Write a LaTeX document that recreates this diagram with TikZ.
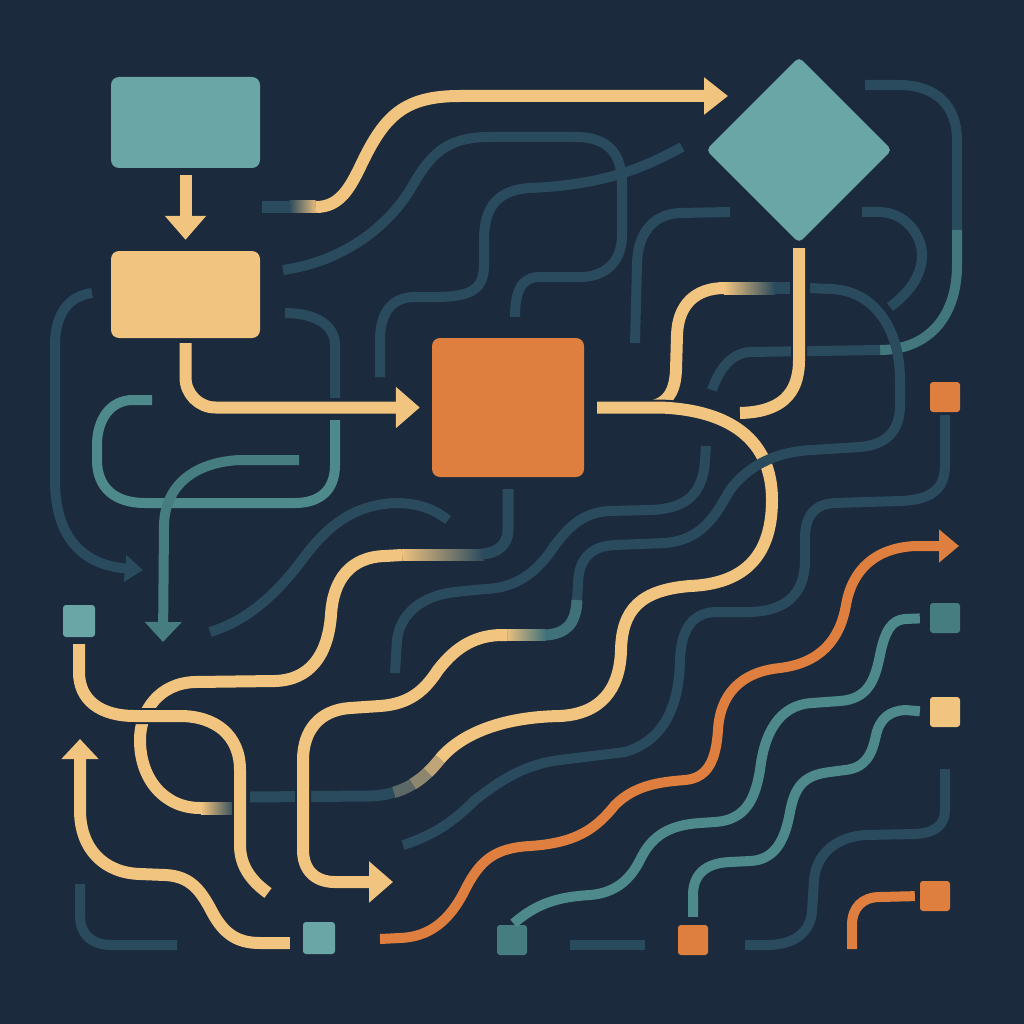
\documentclass[tikz,border=0pt]{standalone}
\usepackage{xcolor}
\usepackage{tikz}
\usetikzlibrary{arrows.meta}
\usetikzlibrary{shapes.geometric}

\definecolor{night}{HTML}{1B2A3C}
\definecolor{deep}{HTML}{2A4A5E}
\definecolor{sea}{HTML}{4E8A8C}
\definecolor{seadk}{HTML}{467D80}
\definecolor{aqua}{HTML}{6AA6A6}
\definecolor{sand}{HTML}{F1C47F}
\definecolor{rust}{HTML}{DF7F3F}

\begin{document}
\begin{tikzpicture}[x=1pt, y=-1pt, line join=round,
  box/.style={rectangle, rounded corners=8pt, inner sep=0pt},
  chip/.style={rectangle, rounded corners=3pt, inner sep=0pt, minimum size=30pt},
  halo/.style={preaction={draw=night, line width=16pt}},
  sandln/.style={draw=sand, line width=12pt, halo},
  deepln/.style={draw=deep, line width=10pt},
  sealn/.style={draw=sea, line width=10pt},
  rustln/.style={draw=rust, line width=10pt},
  bigtip/.style={-{Triangle[width=40pt, length=24pt]}}]
  \useasboundingbox (0,0) rectangle (1024,1024);
  \fill[night] (0,0) rectangle (1024,1024);

  \node[box, fill=aqua, minimum width=149pt, minimum height=91pt] (start) at (185.5,122.5) {};
  \node[box, fill=sand, minimum width=149pt, minimum height=87pt] (prep) at (185.5,294.5) {};
  \node[box, fill=rust, minimum width=152pt, minimum height=139pt] (proc) at (508,407.5) {};
  \node[diamond, aspect=1, fill=aqua, minimum width=186pt, minimum height=186pt, inner sep=0pt, rounded corners=5pt] (dec) at (799,150) {};
  \node[chip, fill=rust] (chipa) at (945,397) {};
  \node[chip, fill=aqua, minimum size=32pt] (chipb) at (319,938) {};
  \node[chip, fill=aqua, minimum size=32pt] (chipc) at (79,621) {};
  \node[chip, fill=seadk] (chipd) at (512,940) {};
  \node[chip, fill=seadk] (chipe) at (945,618) {};
  \node[chip, fill=rust] (chipf) at (693,940) {};
  \node[chip, fill=sand] (chipg) at (945,712) {};
  \node[chip, fill=rust] (chiph) at (935,896) {};

  % dark background lines
  \draw[deepln, -{Triangle[width=26pt, length=18pt]}] (92,293) .. controls (68,296) and (55,315) .. (55,345) -- (55,480) .. controls (55,540) and (85,565) .. (143,570);
  \draw[deepln] (283,270) .. controls (340,262) and (385,230) .. (410,190) .. controls (430,155) and (445,137) .. (490,137) -- (575,137) .. controls (610,137) and (622,155) .. (622,185) -- (622,235) .. controls (622,262) and (605,277) .. (580,277) -- (540,277) .. controls (522,277) and (515,290) .. (515,317);
  \draw[deepln] (682,147) .. controls (640,170) and (600,185) .. (530,188) .. controls (495,190) and (484,210) .. (484,240) -- (484,265) .. controls (484,290) and (470,296) .. (440,297) -- (415,297) .. controls (390,297) and (380,315) .. (380,340) -- (380,377);
  \draw[deepln] (730,212) -- (680,213) .. controls (652,214) and (637,235) .. (637,265) -- (635,343);
  \draw[deepln] (862,212) -- (879,212) .. controls (905,212) and (922,235) .. (922,255) .. controls (922,275) and (910,292) .. (890,307);
  \draw[deepln] (865,85) -- (899,85) .. controls (935,85) and (957,105) .. (957,140) -- (957,230);
  \draw[sealn, draw=sea!70!deep] (957,230) -- (957,265) .. controls (957,320) and (925,350) .. (880,350);
  \draw[deepln] (880,350) -- (750,352) .. controls (730,353) and (718,372) .. (712,390);
  \draw[deepln] (335,398) -- (335,345) .. controls (335,325) and (315,313) .. (285,313);
  \draw[sealn] (152,400) -- (133,400) .. controls (110,400) and (97,420) .. (97,445) -- (97,460) .. controls (97,488) and (115,503) .. (145,503) -- (295,503) .. controls (320,503) and (335,490) .. (335,465) -- (335,420);
  \draw[sealn, draw=seadk, -{Triangle[width=36pt, length=20pt]}] (299,460) -- (240,460) .. controls (195,462) and (165,485) .. (164,525) -- (163,642);
  \draw[deepln] (210,632) .. controls (250,620) and (280,590) .. (305,556) .. controls (325,530) and (350,505) .. (395,503) .. controls (420,503) and (435,510) .. (448,520);
  \draw[deepln] (706,446) -- (705,460) .. controls (703,495) and (685,509) .. (650,510) -- (610,511) .. controls (585,512) and (570,525) .. (555,545) .. controls (540,568) and (520,588) .. (485,589) -- (455,592) .. controls (420,596) and (400,615) .. (397,640) -- (395,673);
  \draw[deepln, shorten <=3pt] (chipa.south) -- (945,465) .. controls (945,490) and (930,500) .. (900,501) -- (835,503) .. controls (815,504) and (806,515) .. (805,535) -- (805,560) .. controls (805,595) and (785,611) .. (750,612) -- (715,612) .. controls (692,613) and (681,630) .. (680,660) .. controls (679,705) and (665,740) .. (625,752) -- (560,760) .. controls (520,765) and (495,785) .. (475,800) .. controls (455,820) and (435,835) .. (403,845);
  \draw[deepln] (945,769) -- (945,810) .. controls (945,825) and (935,833) .. (915,834) -- (865,835) .. controls (835,837) and (816,855) .. (814,880) -- (812,912) .. controls (810,932) and (795,944) .. (770,945) -- (745,945);
  \draw[deepln] (570,945) -- (645,945);
  \draw[deepln] (80,884) -- (80,915) .. controls (80,935) and (92,945) .. (112,945) -- (177,945);

  % teal and orange waves
  \draw[sealn, shorten <=2pt, shorten >=10pt] (chipd.north) .. controls (535,905) and (555,897) .. (590,895) .. controls (615,893) and (630,880) .. (640,860) .. controls (652,835) and (670,825) .. (700,823) -- (715,822) .. controls (745,820) and (755,800) .. (760,770) .. controls (764,735) and (778,705) .. (812,703) -- (840,701) .. controls (868,699) and (875,680) .. (880,655) .. controls (885,630) and (892,620) .. (905,619) -- (chipe.west);
  \draw[sealn, shorten <=8pt, shorten >=10pt] (chipf.north) -- (693,895) .. controls (693,875) and (705,863) .. (730,862) -- (750,861) .. controls (775,860) and (785,840) .. (790,812) .. controls (795,785) and (805,775) .. (830,772) -- (845,770) .. controls (865,768) and (872,755) .. (876,735) .. controls (880,718) and (890,711) .. (905,710) -- (chipg.west);
  \draw[rustln, -{Triangle[width=32pt, length=20pt]}] (380,939) -- (400,938) .. controls (430,937) and (450,920) .. (465,890) .. controls (480,860) and (495,848) .. (530,846) .. controls (575,843) and (595,830) .. (615,805) .. controls (635,785) and (660,782) .. (685,780) .. controls (708,778) and (716,760) .. (718,730) .. controls (720,695) and (740,672) .. (780,668) .. controls (820,663) and (840,640) .. (846,605) .. controls (852,570) and (875,548) .. (915,546) -- (959,546);
  \draw[rustln, shorten >=5pt] (852,949) -- (852,925) .. controls (852,908) and (862,897) .. (880,897) -- (chiph.west);

  % sand flow lines
  \draw[sandln, bigtip, shorten <=7pt, shorten >=11pt] (start) -- (prep);
  \draw[sandln, bigtip, rounded corners=30pt, shorten <=5pt, shorten >=12pt] (prep.south) |- (proc.west);
  \draw[deepln, line width=12pt] (262,207) -- (290,207);
  \shade[left color=deep, right color=sand] (289,201) rectangle (318,213);
  \draw[sandln, -{Triangle[width=36pt, length=24pt]}] (316,207) .. controls (340,207) and (350,188) .. (362,163) .. controls (385,115) and (405,96) .. (460,96) -- (728,96);
  \draw[sandln, shorten <=13pt] (proc.east) -- (640,407.5) .. controls (665,407.5) and (675,395) .. (676,370) -- (677,335) .. controls (678,305) and (695,288) .. (725,288);
  \shade[left color=sand, right color=deep] (724,282) rectangle (775,294);
  \draw[deepln, line width=12pt] (774,288) -- (790,288);
  \draw[sandln, shorten <=13pt] (proc.east) -- (660,407.5) .. controls (730,410) and (772,440) .. (772,500) .. controls (772,560) and (740,584) .. (690,586) .. controls (640,590) and (622,610) .. (621,650) .. controls (620,690) and (600,714) .. (560,716) .. controls (500,717) and (460,735) .. (440,759);
  \draw[draw=sand!75!deep, line width=12pt] (440,759) .. controls (436.25,763.75) and (432.19,768.38) .. (427.66,772.66);
  \draw[draw=sand!50!deep, line width=12pt] (427.66,772.66) .. controls (423.13,776.94) and (418.13,780.88) .. (412.5,784.25);
  \draw[draw=sand!25!deep, line width=11.5pt] (412.5,784.25) .. controls (406.88,787.63) and (400.63,790.44) .. (393.59,792.47);
  \draw[deepln, line width=11pt] (393.59,792.47) .. controls (386.56,794.5) and (378.75,795.75) .. (370,796) -- (250,797);
  \draw[sandln, shorten <=5pt] (dec.south) -- (799,360) .. controls (799,395) and (780,412) .. (740,413);
  \draw[deepln] (810,288) -- (830,289) .. controls (875,290) and (900,330) .. (900,380) -- (900,405) .. controls (900,432) and (885,445) .. (860,447) -- (812,450) .. controls (770,452) and (745,470) .. (730,490) .. controls (718,510) and (705,540) .. (665,543) -- (615,545) .. controls (590,546) and (578,560) .. (578,585) -- (577,600);
  \draw[sealn, draw=sea!60!deep, line width=11pt] (577,600) .. controls (576,625) and (565,634) .. (545,635);
  \shade[left color=sand, right color=sea!60!deep] (505,629.5) rectangle (546,640.5);
  \draw[sandln, bigtip] (507,635) -- (500,635) .. controls (470,636) and (452,652) .. (438,670) .. controls (425,690) and (410,704) .. (380,706) -- (350,708) .. controls (320,710) and (303,730) .. (303,760) -- (303,850) .. controls (303,870) and (315,882) .. (335,882) -- (393,882);
  \draw[deepln, line width=11pt, shorten <=12pt] (proc.south) -- (508,530) .. controls (508,545) and (497,553) .. (482,554);
  \shade[left color=sand, middle color=sea, right color=deep] (400,549) rectangle (484,560);
  \draw[sandln] (402,555) -- (385,556) .. controls (350,557) and (333,580) .. (331,615) .. controls (328,655) and (310,680) .. (275,681) -- (195,682) .. controls (160,683) and (140,710) .. (140,740) .. controls (140,780) and (165,808) .. (200,808) -- (202,808);
  \shade[left color=sand, right color=deep] (201,802) rectangle (235,814);
  \draw[sandln, shorten <=7pt] (chipc.south) -- (79,672) .. controls (79,700) and (100,716) .. (135,716) -- (180,716) .. controls (215,716) and (240,735) .. (240,770) -- (240,845) .. controls (240,865) and (250,880) .. (268,893);
  \draw[sandln, -{Triangle[width=36pt, length=20pt]}, shorten <=13pt] ([yshift=-5pt]chipb.west) -- (260,943) .. controls (235,943) and (222,932) .. (210,908) .. controls (200,890) and (190,876) .. (165,875) -- (140,874) .. controls (105,873) and (80,850) .. (80,810) -- (80,739);
\end{tikzpicture}
\end{document}
